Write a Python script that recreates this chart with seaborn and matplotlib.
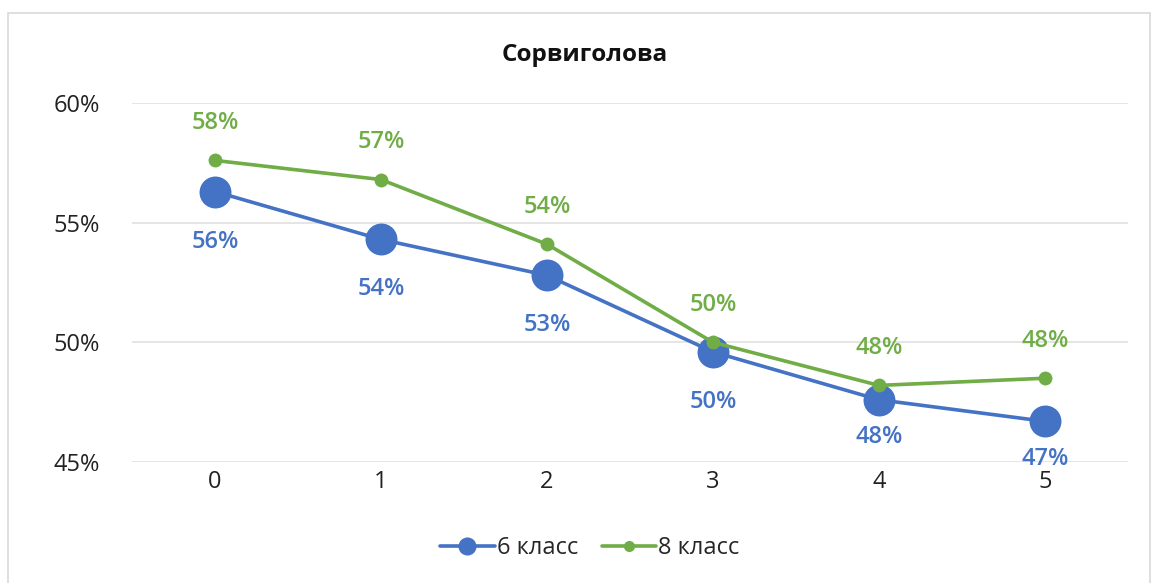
import matplotlib
matplotlib.use("Agg")
import matplotlib.pyplot as plt
import seaborn as sns
import pandas as pd
from matplotlib.lines import Line2D
from matplotlib.patches import Rectangle

categories = [0, 1, 2, 3, 4, 5]
grade6 = [56.3, 54.3, 52.8, 49.6, 47.6, 46.7]
grade8 = [57.6, 56.8, 54.1, 50.0, 48.2, 48.5]
series_names = ["6 класс", "8 класс"]
yticks = [45, 50, 55, 60]
title = "Сорвиголова"

blue = "#4472C4"
green = "#70AD47"

# label offsets (points) below the 6th-grade points; the last ones sit closer
blue_label_offsets = [-36, -36, -36, -36, -27, -27]

sns.set_theme(style="white")
plt.rcParams["font.family"] = ["Open Sans", "DejaVu Sans"]

df = pd.DataFrame({
    "x": categories * 2,
    "y": grade6 + grade8,
    "series": [series_names[0]] * len(categories) + [series_names[1]] * len(categories),
})

fig = plt.figure(figsize=(11.55, 5.83), dpi=100)
ax = fig.add_axes([132 / 1155, 1 - 462 / 583, (1128 - 132) / 1155, (462 - 103) / 583])

sns.lineplot(data=df[df.series == series_names[0]], x="x", y="y", ax=ax,
             color=blue, linewidth=2.6, marker="o", markersize=23,
             markeredgewidth=0, legend=False)
sns.lineplot(data=df[df.series == series_names[1]], x="x", y="y", ax=ax,
             color=green, linewidth=2.6, marker="o", markersize=10,
             markeredgewidth=0, legend=False)

for x, v, off in zip(categories, grade6, blue_label_offsets):
    ax.annotate(f"{round(v):d}%", (x, v), xytext=(0, off), textcoords="offset points",
                ha="center", va="center", color=blue, fontsize=17, fontweight="semibold")
for x, v in zip(categories, grade8):
    ax.annotate(f"{round(v):d}%", (x, v), xytext=(0, 27), textcoords="offset points",
                ha="center", va="center", color=green, fontsize=17, fontweight="semibold")

ax.set_xlim(-0.5, 5.5)
ax.set_ylim(45, 60)
ax.set_yticks(yticks)
ax.set_yticklabels([f"{t}%" for t in yticks])
ax.set_xticks(categories)
ax.set_xticklabels([str(c) for c in categories])
ax.tick_params(axis="both", labelsize=17, colors="#222222", length=0)
ax.tick_params(axis="x", pad=6)
ax.tick_params(axis="y", pad=23)
ax.yaxis.grid(True, color="#E3E3E3", linewidth=1.3)
ax.xaxis.grid(False)
for s in ax.spines.values():
    s.set_visible(False)
ax.set_xlabel("")
ax.set_ylabel("")
ax.set_axisbelow(True)

fig.text(585 / 1155, 1 - 55 / 583, title, ha="center", va="center",
         fontsize=17.5, fontweight="bold", color="#111111")

handles = [
    Line2D([0], [0], color=blue, linewidth=2.6, marker="o", markersize=13, markeredgewidth=0),
    Line2D([0], [0], color=green, linewidth=2.6, marker="o", markersize=8, markeredgewidth=0),
]
fig.legend(handles, series_names, loc="center", bbox_to_anchor=(590 / 1155, 1 - 548 / 583),
           ncol=2, frameon=False, fontsize=17, handlelength=2.3, columnspacing=1.0,
           handletextpad=0.1)

fig.patches.append(Rectangle((8 / 1155, -0.01), (1150 - 8) / 1155, 1 - 13 / 583 + 0.01,
                             transform=fig.transFigure, fill=False, edgecolor="#D9D9D9",
                             linewidth=1.2))

fig.savefig("out.png", dpi=100, facecolor="white")
